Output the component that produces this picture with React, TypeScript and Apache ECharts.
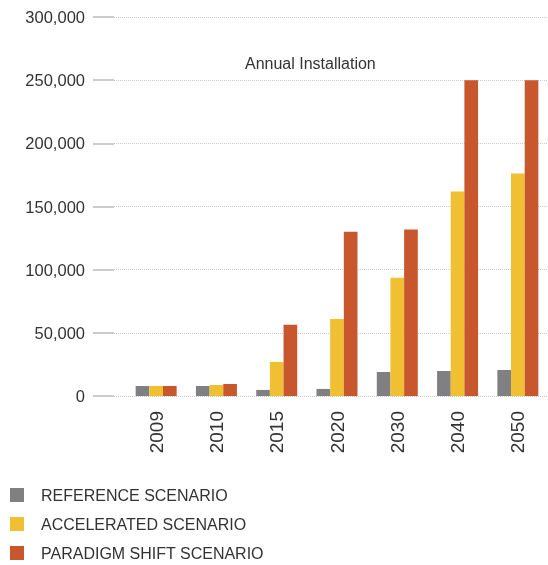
import React, { useEffect, useRef } from "react";
import * as echarts from "echarts";

const categories = ["2009", "2010", "2015", "2020", "2030", "2040", "2050"];
const referenceScenario = [7900, 7900, 4800, 5600, 19000, 19800, 20600];
const acceleratedScenario = [7900, 8700, 27000, 61000, 93600, 161900, 176200];
const paradigmShiftScenario = [7900, 9500, 56300, 130000, 131700, 250000, 250000];
const seriesNames = ["REFERENCE SCENARIO", "ACCELERATED SCENARIO", "PARADIGM SHIFT SCENARIO"];
const colors = ["#808083", "#F0C032", "#C9572E"];
const titleText = "Annual Installation";

export default function App() {
  const ref = useRef<HTMLDivElement>(null);
  useEffect(() => {
    if (!ref.current) return;
    const chart = echarts.init(ref.current, null, { renderer: "svg" });
    const font = "Liberation Sans, Arial, sans-serif";
    const option = {
      animation: false,
      textStyle: { fontFamily: font },
      title: {
        text: titleText,
        left: 245,
        top: 55,
        padding: 0,
        textStyle: { fontSize: 16, fontWeight: "normal", color: "#333", fontFamily: font },
      },
      legend: {
        orient: "vertical",
        left: 10,
        top: 487,
        padding: 0,
        itemWidth: 14,
        itemHeight: 14,
        itemGap: 13,
        icon: "rect",
        data: seriesNames,
        textStyle: { fontSize: 16, color: "#333", fontFamily: font, padding: [0, 0, 0, 12] },
      },
      grid: [
        { left: 126, right: 0, top: 17, bottom: 169 },
        { left: 114, right: 0, top: 17, bottom: 169 },
      ],
      xAxis: [
        {
          type: "category",
          gridIndex: 0,
          data: categories,
          axisLine: { show: false },
          axisTick: { show: false },
          axisLabel: { rotate: 90, fontSize: 19, color: "#333", margin: 15, fontFamily: font },
        },
        { type: "value", gridIndex: 1, show: false },
      ],
      yAxis: [
        { type: "value", gridIndex: 0, min: 0, max: 300000, interval: 50000, show: false },
        {
          type: "value",
          gridIndex: 1,
          min: 0,
          max: 300000,
          interval: 50000,
          axisLine: { show: false },
          axisTick: { show: true, length: 21, lineStyle: { color: "#cccccc", width: 2 } },
          splitLine: { show: true, lineStyle: { color: "#cccccc", type: "dotted", width: 1 } },
          axisLabel: {
            fontSize: 16.5,
            color: "#333",
            margin: 29,
            fontFamily: font,
            formatter: (v: number) => v.toLocaleString("en-US"),
          },
        },
      ],
      series: [
        { name: seriesNames[0], data: referenceScenario },
        { name: seriesNames[1], data: acceleratedScenario },
        { name: seriesNames[2], data: paradigmShiftScenario },
      ].map((s, i) => ({
        ...s,
        type: "bar",
        xAxisIndex: 0,
        yAxisIndex: 0,
        barGap: "0%",
        barCategoryGap: "32%",
        itemStyle: { color: colors[i] },
      })),
    };
    chart.setOption(option as any);
    return () => chart.dispose();
  }, []);
  return (
    <div
      ref={ref}
      style={{ position: "fixed", left: 0, top: 0, width: 548, height: 565 }}
    />
  );
}
